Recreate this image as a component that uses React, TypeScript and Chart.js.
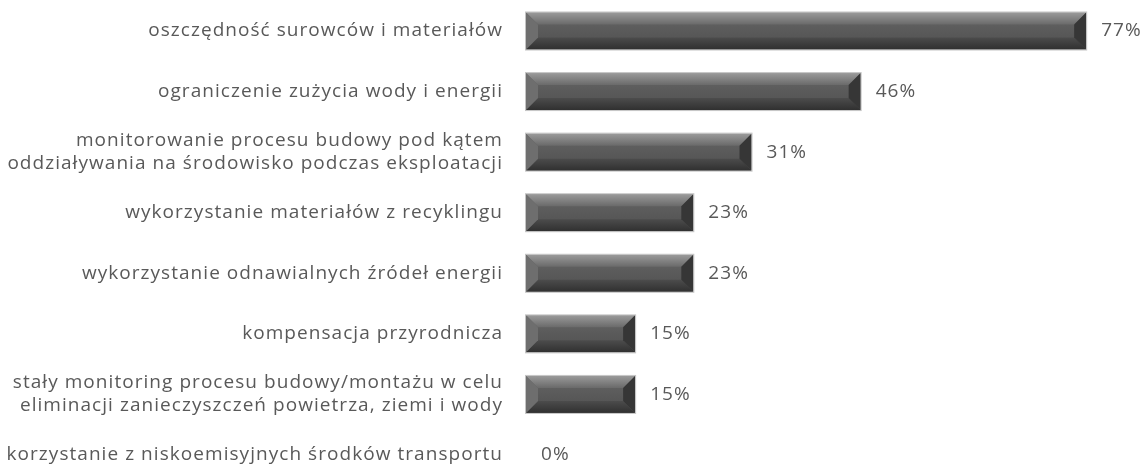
import React, { useEffect, useRef } from "react";
import { Chart, registerables } from "chart.js";

Chart.register(...registerables);

const categories: (string | string[])[] = [
  "oszczędność surowców i materiałów",
  "ograniczenie zużycia wody i energii",
  ["monitorowanie procesu budowy pod kątem", "oddziaływania na środowisko podczas eksploatacji"],
  "wykorzystanie materiałów z recyklingu",
  "wykorzystanie odnawialnych źródeł energii",
  "kompensacja przyrodnicza",
  ["stały monitoring procesu budowy/montażu w celu", "eliminacji zanieczyszczeń powietrza, ziemi i wody"],
  "korzystanie z niskoemisyjnych środków transportu",
];
const values: number[] = [77, 46, 31, 23, 23, 15, 15, 0];
const valueLabels: string[] = ["77%", "46%", "31%", "23%", "23%", "15%", "15%", "0%"];

const FONT = "'Open Sans', 'DejaVu Sans', sans-serif";
const SPACING = "1.05px";

const spacingPlugin = {
  id: "spacing",
  beforeUpdate(chart: any) {
    chart.ctx.letterSpacing = SPACING;
  },
  beforeDraw(chart: any) {
    chart.ctx.letterSpacing = SPACING;
  },
};

const bevelPlugin = {
  id: "bevel",
  afterDatasetsDraw(chart: any) {
    const ctx = chart.ctx;
    const meta = chart.getDatasetMeta(0);
    meta.data.forEach((bar: any, i: number) => {
      const p = bar.getProps(["x", "y", "base", "height"], true);
      const x0 = Math.min(p.base, p.x);
      const x1 = Math.max(p.base, p.x);
      const y0 = p.y - p.height / 2;
      const y1 = p.y + p.height / 2;
      if (x1 - x0 > 1) {
        const b = Math.min(12, (x1 - x0) / 2, (y1 - y0) / 2);
        ctx.save();
        const g = ctx.createLinearGradient(0, y0, 0, y1);
        g.addColorStop(0, "#666666");
        g.addColorStop(0.5, "#5a5a5a");
        g.addColorStop(1, "#505050");
        ctx.fillStyle = g;
        ctx.fillRect(x0, y0, x1 - x0, y1 - y0);
        const gt = ctx.createLinearGradient(0, y0, 0, y0 + b);
        gt.addColorStop(0, "#9a9a9a");
        gt.addColorStop(1, "#6a6a6a");
        ctx.fillStyle = gt;
        ctx.beginPath();
        ctx.moveTo(x0, y0); ctx.lineTo(x1, y0); ctx.lineTo(x1 - b, y0 + b); ctx.lineTo(x0 + b, y0 + b); ctx.closePath();
        ctx.fill();
        const gb = ctx.createLinearGradient(0, y1 - b, 0, y1);
        gb.addColorStop(0, "#4c4c4c");
        gb.addColorStop(1, "#303030");
        ctx.fillStyle = gb;
        ctx.beginPath();
        ctx.moveTo(x0, y1); ctx.lineTo(x1, y1); ctx.lineTo(x1 - b, y1 - b); ctx.lineTo(x0 + b, y1 - b); ctx.closePath();
        ctx.fill();
        ctx.fillStyle = "#6e6e6e";
        ctx.beginPath();
        ctx.moveTo(x0, y0); ctx.lineTo(x0 + b, y0 + b); ctx.lineTo(x0 + b, y1 - b); ctx.lineTo(x0, y1); ctx.closePath();
        ctx.fill();
        ctx.fillStyle = "#363636";
        ctx.beginPath();
        ctx.moveTo(x1, y0); ctx.lineTo(x1 - b, y0 + b); ctx.lineTo(x1 - b, y1 - b); ctx.lineTo(x1, y1); ctx.closePath();
        ctx.fill();
        ctx.strokeStyle = "#c4c4c4";
        ctx.lineWidth = 1;
        ctx.strokeRect(x0 - 0.5, y0 - 0.5, x1 - x0 + 1, y1 - y0 + 1);
        ctx.restore();
      }
      ctx.save();
      ctx.letterSpacing = SPACING;
      ctx.fillStyle = "#595959";
      ctx.font = `19px ${FONT}`;
      ctx.textAlign = "left";
      ctx.textBaseline = "middle";
      ctx.fillText(valueLabels[i], x1 + 15, p.y);
      ctx.restore();
    });
  },
};

export default function App() {
  const ref = useRef<HTMLCanvasElement | null>(null);
  useEffect(() => {
    document.body.style.margin = "0";
    const chart = new Chart(ref.current!, {
      type: "bar",
      data: {
        labels: categories,
        datasets: [
          {
            data: values,
            backgroundColor: "rgba(0,0,0,0)",
            borderWidth: 0,
            barThickness: 37,
            clip: false as any,
          },
        ],
      },
      options: {
        indexAxis: "y",
        responsive: false,
        animation: false,
        layout: { padding: { top: 31, bottom: 10, right: 36, left: 0 } },
        plugins: { legend: { display: false }, tooltip: { enabled: false } },
        scales: {
          x: { display: false, min: 0, max: 80 },
          y: {
            offset: false,
            grid: { display: false, drawTicks: false },
            border: { display: false },
            ticks: {
              color: "#595959",
              font: { family: FONT, size: 19, lineHeight: 1.22 },
              padding: 23,
              autoSkip: false,
            },
            afterFit: (s: any) => {
              s.width = 526;
              s.paddingTop = 0;
              s.paddingBottom = 0;
            },
          },
        },
      },
      plugins: [spacingPlugin, bevelPlugin],
    });
    return () => chart.destroy();
  }, []);
  return <canvas ref={ref} width={1144} height={465} style={{ display: "block" }} />;
}
